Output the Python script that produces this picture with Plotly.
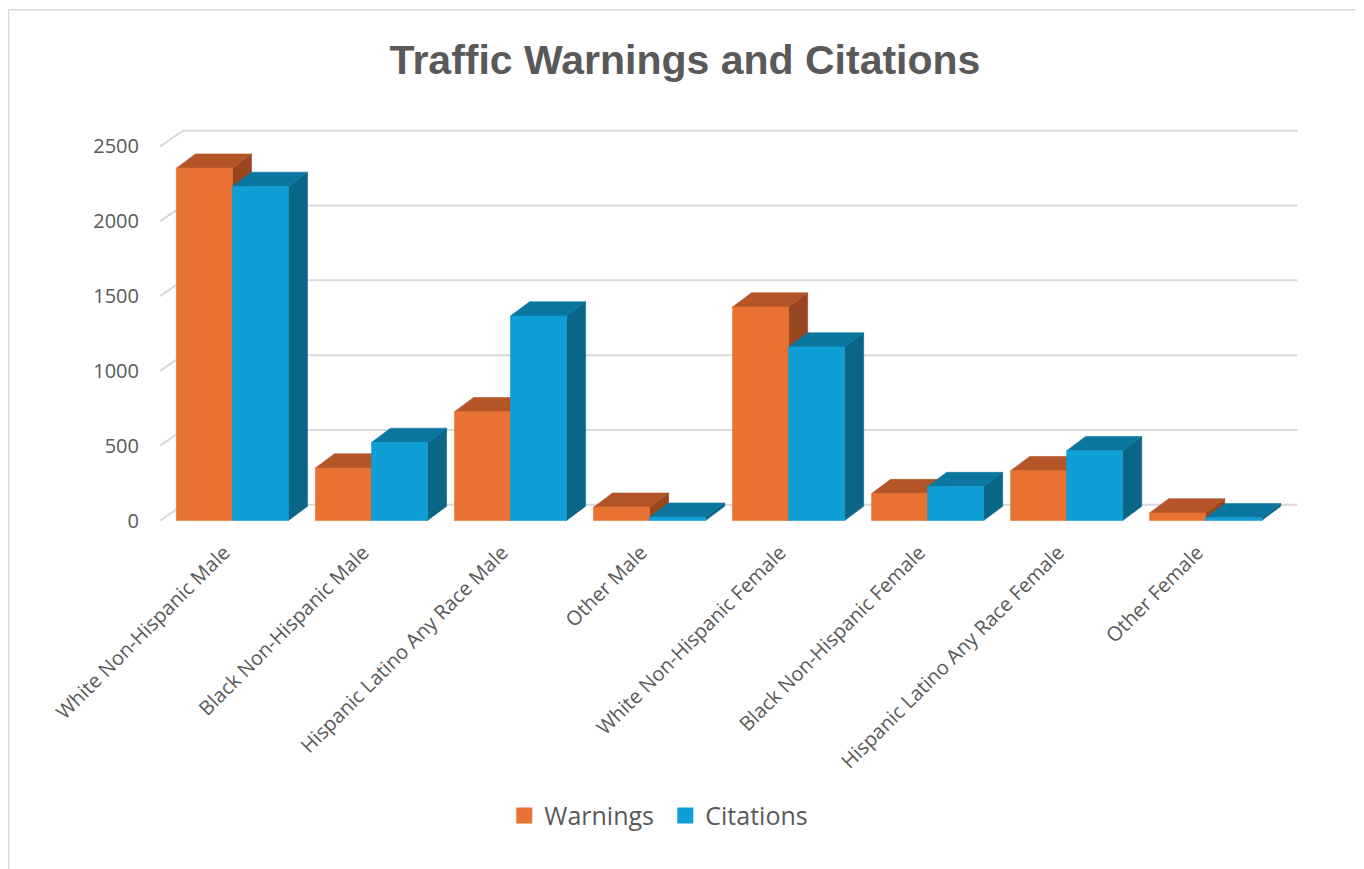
import plotly.graph_objects as go

categories = ["White Non-Hispanic Male", "Black Non-Hispanic Male", "Hispanic Latino Any Race Male",
              "Other Male", "White Non-Hispanic Female", "Black Non-Hispanic Female",
              "Hispanic Latino Any Race Female", "Other Female"]
warnings = [2355, 351, 727, 89, 1427, 180, 333, 51]
citations = [2233, 522, 1367, 22, 1160, 227, 467, 18]
y_ticks = [0, 500, 1000, 1500, 2000, 2500]

W_FRONT, W_TOP, W_SIDE = "#E97132", "#B35527", "#994520"
C_FRONT, C_TOP, C_SIDE = "#0F9ED5", "#0B77A0", "#0A6687"
GRID = "#D9D9D9"
TXT = "#595959"

BAR_W = 0.403      # width of each bar (category units)
DX = 0.137         # depth offset in x (category units)
DY = 95            # depth offset in y (value units)
GX0, GX1, GXR, GDY = -0.52, -0.355, 7.66, 105

fig = go.Figure()

# back-wall gridlines with floor diagonals
for t in y_ticks:
    fig.add_trace(go.Scatter(x=[GX0, GX1, GXR], y=[t, t + GDY, t + GDY], mode="lines",
                             line=dict(color=GRID, width=2), hoverinfo="skip", showlegend=False))

def poly(xs, ys, color):
    fig.add_trace(go.Scatter(x=xs + [xs[0]], y=ys + [ys[0]], mode="lines", fill="toself",
                             fillcolor=color, line=dict(color=color, width=0.6),
                             hoverinfo="skip", showlegend=False))

def bar3d(x0, v, front, top, side):
    x1 = x0 + BAR_W
    poly([x1, x1, x1 + DX, x1 + DX], [0, v, v + DY, DY], side)
    poly([x0, x1, x1 + DX, x0 + DX], [v, v, v + DY, v + DY], top)
    poly([x0, x1, x1, x0], [0, 0, v, v], front)

for i, (w, c) in enumerate(zip(warnings, citations)):
    bar3d(i - BAR_W, w, W_FRONT, W_TOP, W_SIDE)
    bar3d(i, c, C_FRONT, C_TOP, C_SIDE)

# legend proxies
for name, col in [("Warnings", W_FRONT), ("Citations", C_FRONT)]:
    fig.add_trace(go.Scatter(x=[None], y=[None], mode="markers", name=name,
                             marker=dict(symbol="square", size=16, color=col)))

OFF = 8  # page body margin
L, R = 148.54 - OFF, 60.93 + OFF
T, B = 123.5 - OFF, 340.5 + OFF
PW = 1364 - L - R
PH = 869 - T - B
YB = T + PH  # plot bottom (figure px)

fig.update_layout(
    width=1364, height=869,
    margin=dict(l=L, r=R, t=T, b=B),
    paper_bgcolor="white", plot_bgcolor="white",
    font=dict(family="Open Sans", color=TXT),
    title=dict(text="<b>Traffic Warnings and Citations</b>", x=(685 - OFF) / 1364, xref="container",
               xanchor="center", y=1 - (60 - OFF) / 869, yref="container", yanchor="middle",
               font=dict(family="Liberation Sans", size=41, color=TXT)),
    xaxis=dict(range=[-0.6, 7.7], tickvals=[i - 0.06 for i in range(len(categories))],
               ticktext=categories,
               tickangle=-45, showgrid=False, zeroline=False, showline=False, ticks="",
               tickfont=dict(size=20, color=TXT), ticklabelstandoff=8),
    yaxis=dict(range=[-50, 2650], tickvals=y_ticks, showgrid=False, zeroline=False,
               showline=False, ticks="", tickfont=dict(size=20, color=TXT), ticklabelstandoff=9),
    legend=dict(orientation="h", x=(504 - OFF - L) / PW, xanchor="left",
                y=(YB - (817 - OFF)) / PH, yanchor="middle", font=dict(size=25, color=TXT),
                itemsizing="trace", entrywidth=116),
    shapes=[dict(type="rect", xref="paper", yref="paper",
                 x0=(8 - OFF - L) / PW, x1=(1360 - OFF - L) / PW,
                 y0=(YB - 885) / PH, y1=(YB - (9 - OFF)) / PH,
                 line=dict(color=GRID, width=1.5), fillcolor="rgba(0,0,0,0)", layer="below")],
)

fig.write_html("out.html")
